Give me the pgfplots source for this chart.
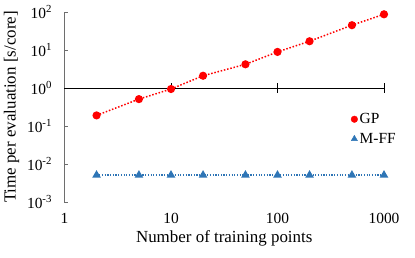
\documentclass[border=0pt]{standalone}
\usepackage{fontspec}
\setmainfont{Liberation Serif}
\usepackage{pgfplots}
\pgfplotsset{compat=1.18}
\definecolor{gpred}{RGB}{255,0,0}
\definecolor{mffblue}{RGB}{46,117,182}
\definecolor{axgray}{RGB}{110,110,110}
\begin{document}
\begin{tikzpicture}
\begin{axis}[
  scale only axis, width=319.5bp, height=190bp,
  xmode=log, ymode=log,
  xmin=1, xmax=1000, ymin=1e-3, ymax=1e2,
  axis y line*=left, axis x line*=bottom,
  x axis line style={draw=none},
  y axis line style={axgray, line width=0.9bp},
  xtick={1,10,100,1000}, xticklabels={1,10,100,1000},
  ytick={1e-3,1e-2,1e-1,1,10,100},
  yticklabels={10\textsuperscript{-3},10\textsuperscript{-2},10\textsuperscript{-1},10\textsuperscript{0},10\textsuperscript{1},10\textsuperscript{2}},
  minor tick style={draw=none},
  xtick style={draw=none},
  ytick style={axgray, line width=0.9bp},
  tick align=inside, major tick length=4bp,
  extra y ticks={1}, extra y tick labels={},
  extra y tick style={grid=major, major grid style={black, line width=0.9bp}, tick style={draw=none}},
  tick label style={font=\fontsize{15.5}{18}\selectfont},
  yticklabel style={xshift=-9bp},
  xticklabel style={yshift=-8bp},
  xlabel={Number of training points},
  ylabel={Time per evaluation [s/core]},
  label style={font=\fontsize{17}{20}\selectfont},
  ylabel style={yshift=1bp},
  legend image code/.code={\draw[#1] plot coordinates {(0bp,0bp)};},
  legend style={draw=none, fill=none, at={(0.887,0.384)}, anchor=west,
    font=\fontsize{15.5}{18}\selectfont, row sep=4bp},
  legend cell align=left,
  clip=false,
]
\addplot[black, only marks, mark=|, mark size=5bp, mark options={line width=0.9bp}, forget plot]
  coordinates {(10,1)(100,1)(1000,1)};
\addplot[gpred, line width=1.5bp, dash pattern=on 1.5bp off 1.8bp,
  mark=*, mark size=3.3bp, mark options={solid}, forget plot]
  coordinates {(2,0.19)(5,0.51)(10,0.94)(20,2.1)(50,4.2)(100,8.9)(200,17)(500,45)(1000,87)};
\addplot[mffblue, line width=1.4bp, dash pattern=on 1.2bp off 1.5bp,
  mark=triangle*, mark size=3.6bp, mark options={solid}, forget plot]
  coordinates {(2,0.0051)(5,0.0051)(10,0.0051)(20,0.0051)(50,0.0051)(100,0.0051)(200,0.0051)(500,0.0051)(1000,0.0051)};
\addlegendimage{only marks, mark=*, gpred, mark size=3.3bp}
\addlegendentry{GP}
\addlegendimage{only marks, mark=triangle*, mffblue, mark size=3.6bp}
\addlegendentry{M-FF}
\coordinate (o) at (rel axis cs:0,0);
\end{axis}
\pgfresetboundingbox
\path (o) ++(-64.5bp,-56bp) rectangle ++(415bp,258bp);
\end{tikzpicture}
\end{document}
